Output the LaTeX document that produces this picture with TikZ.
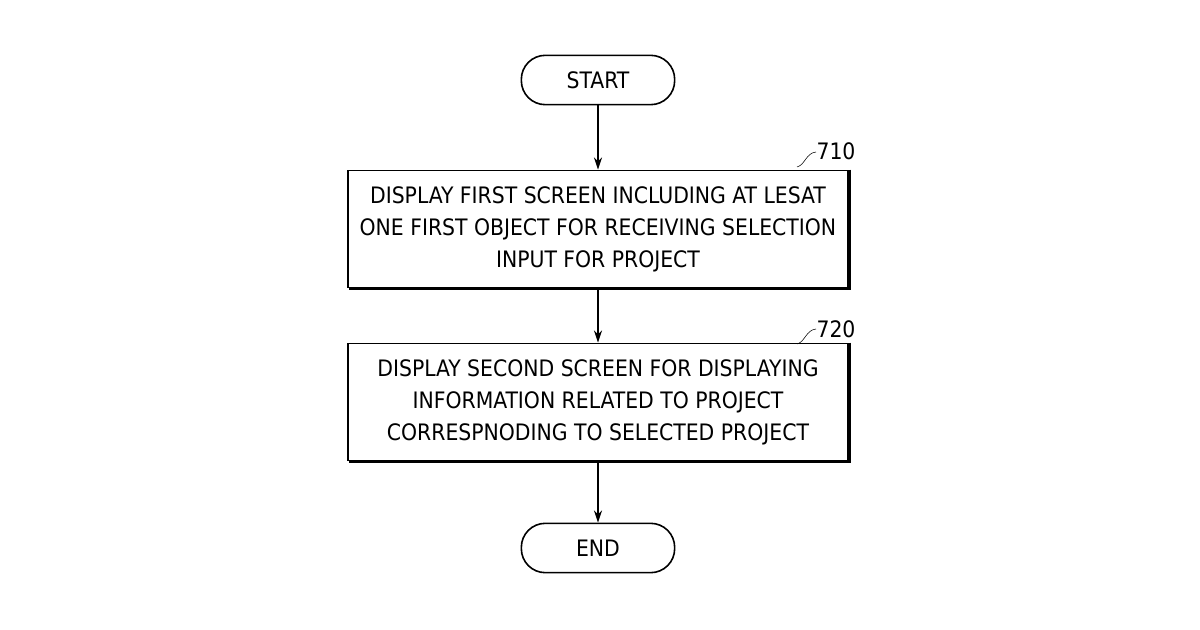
\documentclass[tikz,border=0pt]{standalone}
\usepackage{fontspec}
\setmainfont{DejaVu Sans Condensed}
\usetikzlibrary{arrows.meta}
\begin{document}
\begin{tikzpicture}[x=0.75pt,y=-0.75pt,
 every node/.style={font=\fontsize{17}{24}\selectfont},
 box/.style={draw,line width=1.2pt,minimum width=375pt,minimum height=88pt,align=center,inner sep=0pt},
 term/.style={draw,line width=1.2pt,rounded corners=18pt,minimum width=115pt,minimum height=37pt},
 arr/.style={-{Stealth[length=9pt,width=6pt]},line width=1pt}]
\useasboundingbox (0,0) rectangle (1200,630);
\node[term] (s) at (598,80) {START};
\node[box] (b1) at (598,229) {DISPLAY FIRST SCREEN INCLUDING AT LESAT\\ONE FIRST OBJECT FOR RECEIVING SELECTION\\INPUT FOR PROJECT};
\node[box] (b2) at (598,402) {DISPLAY SECOND SCREEN FOR DISPLAYING\\INFORMATION RELATED TO PROJECT\\CORRESPNODING TO SELECTED PROJECT};
\node[term] (e) at (598,548) {END};
\draw[line width=2pt] (b1.north east)++(1,0) -- ++(0,119) -- ++(-501,0);
\draw[line width=2pt] (b2.north east)++(1,0) -- ++(0,119) -- ++(-501,0);
\draw[arr] (s) -- (b1);
\draw[arr] (b1) -- (b2);
\draw[arr] (b2) -- (e);
\node (l1) at (836,151) {710};
\node (l2) at (836,329) {720};
\draw (797,167) .. controls (805,165) and (806,153) .. (816,152);
\draw (797,344) .. controls (805,342) and (806,330) .. (816,329);
\end{tikzpicture}
\end{document}
